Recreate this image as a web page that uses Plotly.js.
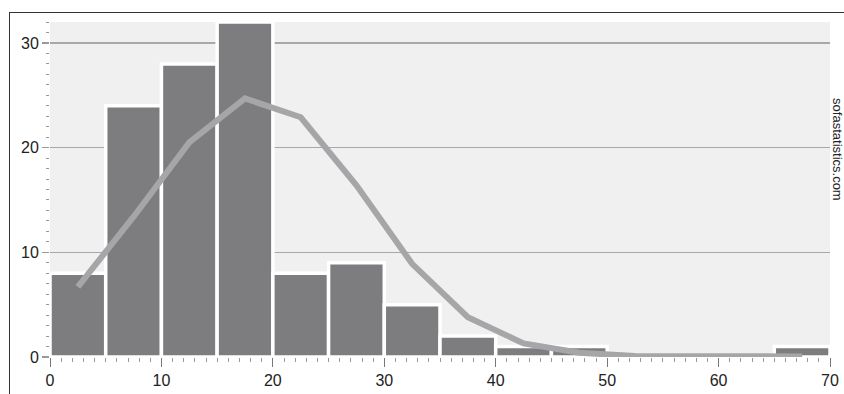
<!DOCTYPE html>
<html>
<head>
<meta charset="utf-8">
<script src="https://cdn.plot.ly/plotly-3.0.1.min.js"></script>
<style>
html,body{margin:0;padding:0;background:#fff;}
#wrap{position:relative;width:844px;height:394px;}
#chart{position:absolute;left:0;top:0;width:844px;height:394px;}
#frame{position:absolute;left:9px;top:12px;width:840px;height:390px;border-left:1.5px solid #333;border-top:1.5px solid #333;pointer-events:none;}
</style>
</head>
<body>
<div id="wrap"><div id="chart"></div><div id="frame"></div></div>
<script>
// Histogram bins (centres), counts, and normal-curve values
const binCentres = [2.5, 7.5, 12.5, 17.5, 22.5, 27.5, 32.5, 37.5, 42.5, 47.5, 52.5, 57.5, 62.5, 67.5];
const counts     = [8, 24, 28, 32, 8, 9, 5, 2, 1, 1, 0, 0, 0, 1];
const normalCurve = [6.7, 13.4, 20.5, 24.7, 22.9, 16.4, 8.9, 3.8, 1.3, 0.4, 0.1, 0.05, 0.05, 0.05];
const xTicks = [0, 10, 20, 30, 40, 50, 60, 70];
const yTicks = [0, 10, 20, 30];
const watermark = "sofastatistics.com";

const traces = [
  {
    type: 'bar',
    x: binCentres,
    y: counts,
    width: 5,
    marker: {color: '#7d7d80', line: {color: '#ffffff', width: 3.5}},
    hoverinfo: 'x+y'
  },
  {
    type: 'scatter',
    mode: 'lines',
    x: binCentres,
    y: normalCurve,
    line: {color: '#a6a6a9', width: 6},
    hoverinfo: 'skip'
  }
];

const layout = {
  width: 844, height: 394,
  margin: {l: 50, r: 14, t: 22, b: 37},
  paper_bgcolor: 'rgba(0,0,0,0)',
  plot_bgcolor: '#f0f0f0',
  showlegend: false,
  bargap: 0,
  font: {family: 'Liberation Sans, Arial, sans-serif', size: 16, color: '#222'},
  xaxis: {
    range: [0, 70],
    tickvals: xTicks,
    ticktext: xTicks.map(String),
    showgrid: false,
    zeroline: false,
    showline: false,
    ticks: 'outside',
    ticklen: 9,
    tickwidth: 1,
    tickcolor: '#777',
    minor: {dtick: 1, ticks: 'outside', ticklen: 4, tickcolor: '#999', tickwidth: 1, showgrid: false},
    tickfont: {size: 16, color: '#222'}
  },
  yaxis: {
    range: [0, 32],
    tickvals: yTicks,
    ticktext: yTicks.map(String),
    showgrid: true,
    gridcolor: '#a8a8a8',
    gridwidth: 1.5,
    zeroline: false,
    showline: false,
    ticks: 'outside',
    ticklen: 7,
    tickwidth: 1.5,
    tickcolor: '#999',
    minor: {dtick: 1, ticks: 'outside', ticklen: 3, tickcolor: '#999', tickwidth: 1, showgrid: false},
    tickfont: {size: 16, color: '#222'}
  },
  annotations: [{
    text: watermark,
    xref: 'paper', yref: 'paper',
    x: 1.0105, y: 0.62,
    showarrow: false,
    textangle: 90,
    font: {size: 13, color: '#222', family: 'Liberation Sans, Arial, sans-serif'},
    xanchor: 'center', yanchor: 'middle'
  }]
};

Plotly.newPlot('chart', traces, layout, {displayModeBar: false, staticPlot: true});
</script>
</body>
</html>
